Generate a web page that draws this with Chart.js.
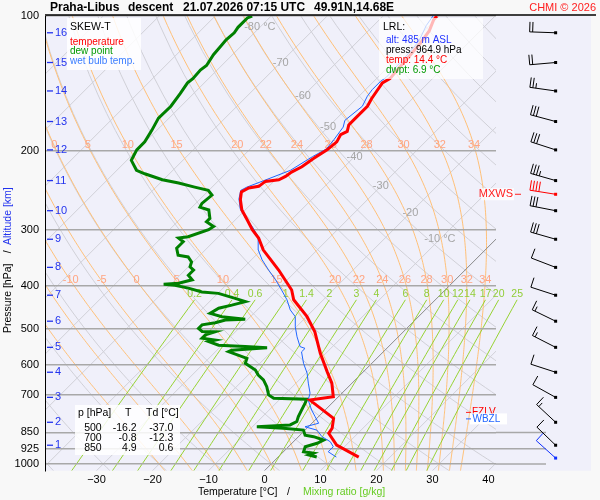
<!DOCTYPE html>
<html>
<head>
<meta charset="utf-8">
<script src="https://cdn.jsdelivr.net/npm/chart.js@4.4.1/dist/chart.umd.min.js"></script>
<style>
  html, body { margin: 0; padding: 0; background: #f8f8f8; }
  canvas { display: block; }
</style>
</head>
<body>
<canvas id="skewt" width="600" height="500"></canvas>
<script>
// =========================
// Data read off the sounding
// =========================

const tempP = [965, 907, 854, 832, 791, 720, 708, 660, 622, 566, 507, 469, 430, 409, 369, 333, 313, 300, 285, 271,
  257, 247, 242, 240, 234, 232, 228, 223, 217, 208, 199, 191, 184, 181, 175, 171, 159, 153, 141, 138, 130, 122, 115, 108, 102, 100];
const tempT = [14.4, 8.3, 4.8, 4.5, 3.0, -4.5, -0.9, -3.6, -6.5, -11.0, -15.8, -19.9, -25.3, -27.4, -33.3, -39.6, -42.6, -45.2, -47.9, -50.6,
  -52.7, -53.9, -53.3, -51.8, -51.5, -49.4, -48.8, -48.5, -47.6, -47.0, -46.1, -45.8, -46.4, -45.8, -46.7, -46.7, -46.7, -47.3, -48.2, -47.6, -47.9, -48.2, -48.5, -49.1, -50.3, -50.4];

const wetP = [965, 939, 915, 892, 869, 840, 826, 811, 784, 758, 720, 695, 660, 627, 596, 562, 552, 547, 520, 494, 469, 453, 430, 409,
  388, 369, 350, 333, 311, 295, 284, 270, 256, 245, 241, 233, 221, 206, 198, 189, 177, 171, 159, 151, 146, 140, 137, 129, 121, 114, 105, 100];
const wetT = [10.4, 8.0, 8.0, 6.6, 4.2, 2.1, -0.6, 1.2, -0.6, -2.4, -4.8, -5.7, -7.8, -9.8, -12.2, -14.6, -14.6, -15.8, -18.1, -20.2, -22.0, -24.1, -26.5, -29.2,
  -32.1, -35.1, -38.1, -40.5, -42.9, -45.8, -48.2, -51.0, -53.1, -54.3, -53.8, -51.9, -49.0, -47.5, -46.4, -46.7, -47.3, -48.2, -47.6, -48.5, -48.8, -48.8, -48.5, -48.6, -48.8, -49.1, -50.6, -51.1];

const dewP = [965, 955, 946, 939, 915, 899, 884, 869, 862, 840, 832, 826, 818, 804, 784, 758, 732, 717, 713, 701, 672, 649, 633, 617, 596, 581,
  561, 557, 550, 547, 543, 533, 529, 524, 515, 507, 506, 498, 489, 484, 477, 475, 469, 461, 449, 442, 434, 427, 416, 413, 405, 399, 397, 395,
  388, 379, 369, 363, 354, 345, 342, 330, 319, 313, 311, 300, 295, 288, 283, 271, 267, 262, 251, 245, 241, 236, 232, 225, 221, 210, 199, 191,
  180, 169, 159, 149, 141, 138, 132, 129, 122, 117, 113, 109, 106, 101, 100];
const dewT = [6.9, 5.1, 5.6, 3.6, 3.0, 4.5, 5.1, 2.7, 0.9, -0.3, -4.2, -9.2, -3.6, -3.0, -3.6, -4.2, -4.8, -5.2, -11.3, -12.8, -14.6, -16.4, -18.2, -19.6, -22.6, -23.2,
  -27.7, -27.4, -21.5, -25.6, -30.6, -33.0, -32.1, -34.8, -34.8, -33.6, -36.0, -37.2, -37.2, -35.2, -33.9, -30.5, -35.1, -37.8, -37.2, -35.4, -33.6, -36.0, -39.9, -43.1, -46.2, -49.1, -51.3, -48.8,
  -47.0, -48.5, -48.5, -49.7, -50.3, -51.8, -53.9, -55.4, -55.4, -56.9, -55.4, -53.0, -52.7, -54.8, -54.8, -56.5, -58.6, -58.9, -58.6, -60.1, -63.1, -66.7, -70.2, -74.4, -76.5, -79.2, -80.1, -80.1,
  -80.9, -81.9, -81.8, -82.4, -83.0, -82.8, -83.0, -82.7, -83.4, -83.6, -83.8, -83.6, -83.9, -83.9, -83.4];

// wind: surface, then every km from 1 to 16
const windP = [970, 908, 807, 710, 624, 549, 480, 420, 364, 315, 272, 233, 199, 172, 147, 127, 109];
const windDir = [312, 314, 313, 299, 288, 297, 296, 288, 291, 286, 281, 286, 288, 285, 278, 265, 272];
const windKt = [10, 10, 15, 10, 10, 15, 15, 10, 10, 30, 30, 35, 30, 30, 25, 20, 20];
const mxwsP = 250, mxwsDir = 279, mxwsKt = 40;

const altKm = [1, 2, 3, 4, 5, 6, 7, 8, 9, 10, 11, 12, 13, 14, 15, 16];
const altP = [908, 807, 710, 624, 549, 480, 420, 364, 315, 272, 233, 199, 172, 147, 127, 109];

const pressureTicks = [100, 200, 300, 400, 500, 600, 700, 850, 925, 1000];
const tempTicks = [-30, -20, -10, 0, 10, 20, 30, 40];

const isoLabelT = [-80, -70, -60, -50, -40, -30, -20, -10];
const isoLabelP = [106, 127, 151, 177, 206, 240, 275, 315];
const moistThetaW = [-20, -15, -10, -5, 0, 5, 10, 15, 20, 22, 24, 26, 28, 30, 32, 34];
const mixRatios = [0.2, 0.4, 0.6, 1, 1.4, 2, 3, 4, 6, 8, 10, 12, 14, 17, 20, 25];

const tableP = [500, 700, 850];
const tableT = [-16.2, -0.8, 4.9];
const tableTd = [-37.0, -12.3, 0.6];

const lrlAlt = 485, lrlPress = 964.9, lrlTemp = 14.4, lrlDwpt = 6.9;
const fzlvP = 767, wbzlP = 793;

// =========================
// Diagram geometry
// =========================

const FONT = '"Liberation Sans", Arial, Helvetica, sans-serif';
const P_BOT = 1035, P_TOP = 100, SKEW = 80;
const X_MIN = -39.2, X_MAX = 41.35;

function skewX(t, p) {
  return t + SKEW * Math.log10(P_BOT / p);
}

function toXY(ts, ps) {
  return ts.map((t, i) => ({ x: skewX(t, ps[i]), y: ps[i] }));
}

const RD = 287.04, CP = 1005.7, LV = 2.501e6, EPS = 0.622;

function satVap(tk) {
  return 6.112 * Math.exp(17.67 * (tk - 273.15) / (tk - 29.65));
}

function moistLapse(tk, p) {
  const es = satVap(tk);
  const rs = EPS * es / (p - es);
  return (RD * tk + LV * rs) / (p * (CP + LV * LV * rs * EPS / (RD * tk * tk)));
}

function moistAdiabat(tw) {
  const down = [];
  let t = tw + 273.15, p = 1000;
  while (p < P_BOT) {
    const dp = Math.min(5, P_BOT - p);
    t += moistLapse(t, p) * dp;
    p += dp;
    down.push([t - 273.15, p]);
  }
  const pts = down.reverse();
  pts.push([tw, 1000]);
  t = tw + 273.15; p = 1000;
  while (p > P_TOP) {
    const dp = Math.min(5, p - P_TOP);
    const k1 = moistLapse(t, p);
    const k2 = moistLapse(t - k1 * dp / 2, p - dp / 2);
    t -= k2 * dp;
    p -= dp;
    pts.push([t - 273.15, p]);
  }
  return pts;
}

function mixTemp(w, p) {
  const l = Math.log((w * p / (622 + w)) / 6.112);
  return 243.5 * l / (17.67 - l);
}

function strokePts(ctx, xs, ys, pts) {
  ctx.beginPath();
  pts.forEach(([t, p], i) => {
    const px = xs.getPixelForValue(skewX(t, p));
    const py = ys.getPixelForValue(p);
    if (i) ctx.lineTo(px, py); else ctx.moveTo(px, py);
  });
  ctx.stroke();
}

function text(ctx, str, x, y, color, size, align, bold) {
  ctx.font = (bold ? 'bold ' : '') + size + 'px ' + FONT;
  ctx.fillStyle = color;
  ctx.textAlign = align || 'left';
  ctx.textBaseline = 'middle';
  ctx.fillText(str, x, y);
}

// =========================
// Background (thermo lines)
// =========================

const backgroundPlugin = {
  id: 'skewBackground',
  beforeDraw(chart) {
    const { ctx, chartArea: ca, scales: { x: xs, y: ys } } = chart;
    ctx.save();
    ctx.fillStyle = '#f8f8f8';
    ctx.fillRect(0, 0, chart.width, chart.height);
    ctx.fillStyle = '#f0f0fa';
    ctx.fillRect(ca.left, ca.top, 546 - ca.left + 45, ca.bottom - ca.top);

    ctx.save();
    ctx.beginPath();
    ctx.rect(ca.left, ca.top, ca.right - ca.left, ca.bottom - ca.top);
    ctx.clip();
    ctx.lineWidth = 1;

    // isotherms
    ctx.strokeStyle = 'rgb(208,208,215)';
    for (let t = -130; t <= 40; t += 10) {
      if (t === 0) continue;
      strokePts(ctx, xs, ys, [[t, P_BOT], [t, P_TOP]]);
    }
    // dry adiabats
    for (let th = -40; th <= 200; th += 10) {
      const pts = [];
      for (let p = P_BOT; p >= P_TOP; p -= 15) pts.push([(th + 273.15) * Math.pow(p / 1000, 0.2857) - 273.15, p]);
      pts.push([(th + 273.15) * Math.pow(P_TOP / 1000, 0.2857) - 273.15, P_TOP]);
      strokePts(ctx, xs, ys, pts);
    }
    // moist adiabats
    ctx.strokeStyle = 'rgb(255,192,120)';
    moistThetaW.forEach(tw => strokePts(ctx, xs, ys, moistAdiabat(tw)));
    // 0 degC isotherm
    ctx.strokeStyle = '#8a8a8a';
    strokePts(ctx, xs, ys, [[0, P_BOT], [0, P_TOP]]);
    ctx.restore();

    // mixing ratio lines (reach a bit further right)
    ctx.save();
    ctx.beginPath();
    ctx.rect(ca.left, ca.top, 546 - ca.left, ca.bottom - ca.top);
    ctx.clip();
    ctx.strokeStyle = 'rgb(150,210,50)';
    ctx.lineWidth = 1;
    mixRatios.forEach(w => {
      const pts = [];
      for (let p = P_BOT; p >= 430; p -= 15) pts.push([mixTemp(w, p), p]);
      pts.push([mixTemp(w, 430), 430]);
      strokePts(ctx, xs, ys, pts);
    });
    ctx.restore();
    ctx.restore();
  },
  beforeDatasetsDraw(chart) {
    const { ctx, chartArea: ca, scales: { x: xs, y: ys } } = chart;
    ctx.save();
    // low-level pressure lines run on under the barbs
    ctx.strokeStyle = '#a8a8a8';
    ctx.lineWidth = 1.5;
    [850, 925, 1000].forEach(p => {
      const py = ys.getPixelForValue(p);
      ctx.beginPath();
      ctx.moveTo(ca.right, py);
      ctx.lineTo(546, py);
      ctx.stroke();
    });

    // isotherm labels
    isoLabelT.forEach((t, i) => {
      const p = isoLabelP[i];
      const lab = (t === -80 || t === -10) ? t + ' °C' : String(t);
      text(ctx, lab, xs.getPixelForValue(skewX(t, p)), ys.getPixelForValue(p), '#a6a6a6', 11, 'center');
    });

    // moist adiabat labels at two rows
    [194, 389].forEach(pRow => {
      moistThetaW.forEach(tw => {
        const pts = moistAdiabat(tw);
        let best = pts[0];
        pts.forEach(q => { if (Math.abs(q[1] - pRow) < Math.abs(best[1] - pRow)) best = q; });
        const px = xs.getPixelForValue(skewX(best[0], best[1]));
        if (px < ca.left + 5 || px > ca.right - 4) return;
        text(ctx, String(tw), px, ys.getPixelForValue(pRow), 'rgb(255,165,130)', 11, 'center');
      });
    });

    // mixing ratio labels
    mixRatios.forEach(w => {
      const px = xs.getPixelForValue(skewX(mixTemp(w, 430), 430));
      text(ctx, String(w), px, ys.getPixelForValue(417), 'rgb(145,205,55)', 10.5, 'center');
    });
    ctx.restore();
  }
};

// =========================
// Overlays: texts, boxes, barbs
// =========================

function drawBarb(ctx, x0, y0, dir, kt, color) {
  const a = dir * Math.PI / 180;
  const sx = Math.sin(a), sy = -Math.cos(a);
  const fx = -sy, fy = sx;
  const L = 26, F = 10, gap = 3;
  ctx.strokeStyle = color;
  ctx.fillStyle = color;
  ctx.lineWidth = 1;
  ctx.beginPath();
  ctx.moveTo(x0, y0);
  ctx.lineTo(x0 + sx * L, y0 + sy * L);
  const n = Math.round(kt / 5);
  const full = Math.floor(n / 2), half = n % 2;
  let pos = L;
  for (let i = 0; i < full; i++) {
    const bx = x0 + sx * pos, by = y0 + sy * pos;
    ctx.moveTo(bx, by);
    ctx.lineTo(bx + fx * F, by + fy * F);
    pos -= gap;
  }
  if (half) {
    const bx = x0 + sx * pos, by = y0 + sy * pos;
    ctx.moveTo(bx, by);
    ctx.lineTo(bx + fx * F / 2, by + fy * F / 2);
  }
  ctx.stroke();
  ctx.fillRect(x0 - 1.5, y0 - 1.5, 3, 3);
}

const overlayPlugin = {
  id: 'skewOverlay',
  afterDraw(chart) {
    const { ctx, chartArea: ca, scales: { x: xs, y: ys } } = chart;
    ctx.save();

    // top rule and header
    ctx.strokeStyle = '#000';
    ctx.lineWidth = 1.5;
    ctx.beginPath();
    ctx.moveTo(ca.left, 15);
    ctx.lineTo(596, 15);
    ctx.stroke();
    text(ctx, 'Praha-Libus', 50, 7.5, '#000', 12, 'left', true);
    text(ctx, 'descent', 128, 7.5, '#000', 12, 'left', true);
    text(ctx, '21.07.2026 07:15 UTC', 183, 7.5, '#000', 12, 'left', true);
    text(ctx, '49.91N,14.68E', 314, 7.5, '#000', 12, 'left', true);
    text(ctx, 'CHMI © 2026', 596, 7.5, '#ff2020', 11, 'right');

    // legend box
    ctx.fillStyle = 'rgba(255,255,255,0.85)';
    ctx.fillRect(67, 18, 74, 52);
    text(ctx, 'SKEW-T', 70, 27, '#000', 10.5);
    text(ctx, 'temperature', 70, 42, '#ff0000', 10);
    text(ctx, 'dew point', 70, 51.7, '#009900', 10);
    text(ctx, 'wet bulb temp.', 70, 61.7, '#3a7dff', 10);

    // LRL box
    ctx.fillStyle = 'rgba(255,255,255,0.72)';
    ctx.fillRect(379, 18, 104, 61);
    text(ctx, 'LRL:', 383, 27.3, '#000', 10.5);
    text(ctx, 'alt: ' + lrlAlt + ' m ASL', 386, 40, '#2233ff', 10);
    text(ctx, 'press: ' + lrlPress.toFixed(1) + ' hPa', 386, 50, '#000', 10);
    text(ctx, 'temp: ' + lrlTemp.toFixed(1) + ' °C', 386, 60.3, '#ff0000', 10);
    text(ctx, 'dwpt: ' + lrlDwpt.toFixed(1) + ' °C', 386, 70, '#009900', 10);

    // table box
    ctx.fillStyle = 'rgba(255,255,255,0.85)';
    ctx.fillRect(75, 405, 105, 50);
    text(ctx, 'p [hPa]', 78, 413.3, '#000', 10.5);
    text(ctx, 'T', 125, 413.3, '#000', 10.5);
    text(ctx, 'Td [°C]', 146, 413.3, '#000', 10.5);
    tableP.forEach((p, i) => {
      const yy = 428.3 + i * 10;
      text(ctx, String(p), 101.7, yy, '#000', 10.5, 'right');
      text(ctx, tableT[i].toFixed(1), 136.7, yy, '#000', 10.5, 'right');
      text(ctx, tableTd[i].toFixed(1), 173.3, yy, '#000', 10.5, 'right');
    });

    // altitude labels
    ctx.strokeStyle = '#2233ee';
    ctx.lineWidth = 1.3;
    altKm.forEach((km, i) => {
      const py = ys.getPixelForValue(altP[i]);
      ctx.beginPath();
      ctx.moveTo(47, py);
      ctx.lineTo(53, py);
      ctx.stroke();
      text(ctx, String(km), 55, py, '#2233ee', 11);
    });

    // wind barbs
    const bx = xs.getPixelForValue(52);
    windP.forEach((p, i) => {
      drawBarb(ctx, bx, ys.getPixelForValue(p), windDir[i], windKt[i], i === 0 ? '#1030ff' : '#000');
    });
    drawBarb(ctx, bx, ys.getPixelForValue(mxwsP), mxwsDir, mxwsKt, '#ff0000');

    // MXWS, FZLV, WBZL markers
    const my = ys.getPixelForValue(mxwsP);
    ctx.fillStyle = 'rgba(255,255,255,0.8)';
    ctx.fillRect(481, my - 6, 33, 12);
    text(ctx, 'MXWS', 513, my, '#ff2020', 11, 'right');
    ctx.strokeStyle = '#ff2020';
    ctx.lineWidth = 1;
    ctx.beginPath(); ctx.moveTo(515, my); ctx.lineTo(521, my); ctx.stroke();

    const fy = ys.getPixelForValue(fzlvP);
    ctx.beginPath(); ctx.moveTo(466, fy); ctx.lineTo(471, fy); ctx.stroke();
    text(ctx, 'FZLV', 472, fy, '#ff0000', 10);
    const wy = ys.getPixelForValue(wbzlP);
    ctx.fillStyle = '#ffffff';
    ctx.fillRect(470, wy - 5.5, 37, 11);
    ctx.strokeStyle = '#2266ff';
    ctx.beginPath(); ctx.moveTo(466, wy); ctx.lineTo(471, wy); ctx.stroke();
    text(ctx, 'WBZL', 472.5, wy, '#2266ff', 10);

    // axis titles
    text(ctx, 'Temperature [°C]', 198, 492.5, '#000', 10.5);
    text(ctx, '/', 287, 492.5, '#000', 10.5);
    text(ctx, 'Mixing ratio [g/kg]', 303, 492.5, '#66cc22', 10.5);

    ctx.save();
    ctx.translate(8.5, 0);
    ctx.rotate(-Math.PI / 2);
    text(ctx, 'Pressure [hPa]', -333, 0, '#000', 10.5);
    text(ctx, '/', -251.7, 0, '#000', 10.5, 'center');
    text(ctx, 'Altitude [km]', -245, 0, '#2233ee', 10.5);
    ctx.restore();

    ctx.restore();
  }
};

// =========================
// Chart
// =========================

new Chart(document.getElementById('skewt'), {
  type: 'scatter',
  data: {
    datasets: [
      { label: 'temperature', data: toXY(tempT, tempP), showLine: true, borderColor: '#ff0000', borderWidth: 3, pointRadius: 0, order: 1 },
      { label: 'wet bulb temp.', data: toXY(wetT, wetP), showLine: true, borderColor: '#1f66ff', borderWidth: 1, pointRadius: 0, order: 2 },
      { label: 'dew point', data: toXY(dewT, dewP), showLine: true, borderColor: '#008000', borderWidth: 3, pointRadius: 0, order: 3 },
    ],
  },
  options: {
    responsive: false,
    animation: false,
    layout: { padding: { top: 16, right: 104, left: 0, bottom: 0 } },
    plugins: { legend: { display: false }, tooltip: { enabled: false } },
    scales: {
      x: {
        type: 'linear',
        min: X_MIN,
        max: X_MAX,
        grid: { display: false, drawTicks: false },
        border: { display: false },
        afterBuildTicks: (s) => { s.ticks = tempTicks.map((v) => ({ value: v })); },
        afterFit: (s) => { s.height = 29.3; },
        ticks: {
          autoSkip: false, maxRotation: 0, padding: 3, color: '#000',
          font: { family: FONT, size: 11 },
          callback: (v) => (v < 0 ? '\u2212' + Math.abs(v) : String(v)),
        },
      },
      y: {
        type: 'logarithmic',
        reverse: true,
        min: P_TOP,
        max: P_BOT,
        grid: { color: '#a8a8a8', lineWidth: 1.5, drawTicks: false },
        border: { display: true, color: '#000', width: 1 },
        afterBuildTicks: (s) => { s.ticks = pressureTicks.map((v) => ({ value: v })); },
        afterFit: (s) => { s.width = 45; },
        ticks: {
          autoSkip: false, padding: 6, color: '#000',
          font: { family: FONT, size: 11 },
          callback: (v) => String(v),
        },
      },
    },
  },
  plugins: [backgroundPlugin, overlayPlugin],
});
</script>
</body>
</html>
